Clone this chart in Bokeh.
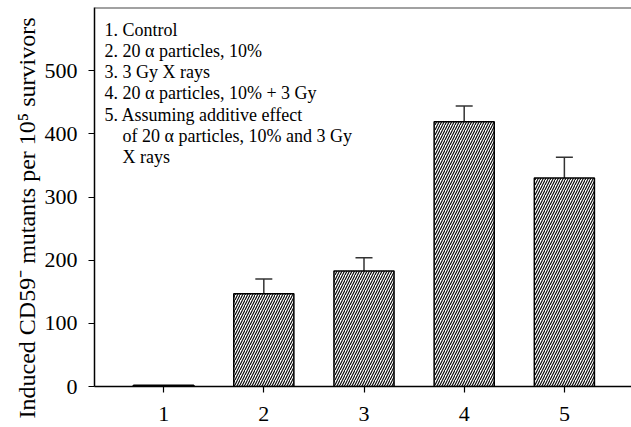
from bokeh.plotting import figure
from bokeh.models import ColumnDataSource, Whisker, TeeHead, FixedTicker, Span, Label, Range1d, Title
from bokeh.embed import file_html
from bokeh.resources import INLINE

# data
groups = [1, 2, 3, 4, 5]
tick_labels = ["1", "2", "3", "4", "5"]
means = [2, 147, 183, 419, 330]
errors = [0, 23, 21, 25, 33]
legend_lines = [
    "1. Control",
    "2. 20 \u03b1 particles, 10%",
    "3. 3 Gy X rays",
    "4. 20 \u03b1 particles, 10% + 3 Gy",
    "5. Assuming additive effect",
    "of 20 \u03b1 particles, 10% and 3 Gy",
    "X rays",
]
legend_indent = [0, 0, 0, 0, 0, 1, 1]
y_ticks = [0, 100, 200, 300, 400, 500]
y_label = "Induced CD59\u207b mutants per 10\u2075 survivors"

FONT = "Liberation Serif"
W, H = 631, 427

p = figure(width=W, height=H, output_backend="svg", toolbar_location=None,
           x_range=Range1d(0.31, 5.67), y_range=Range1d(0, 600),
           min_border_left=94, min_border_right=0, min_border_top=7, min_border_bottom=41)
p.background_fill_color = "white"
p.border_fill_color = "white"
p.outline_line_color = None
p.xgrid.grid_line_color = None
p.ygrid.grid_line_color = None

src = ColumnDataSource(dict(x=groups, top=means))
p.vbar(x="x", top="top", bottom=0, width=0.6, source=src,
       fill_color="white", line_color="black", line_width=1.5,
       hatch_pattern="/", hatch_color="black", hatch_scale=5, hatch_weight=1.1)

ex = [g for g, e in zip(groups, errors) if e > 0]
elo = [m for m, e in zip(means, errors) if e > 0]
ehi = [m + e for m, e in zip(means, errors) if e > 0]
esrc = ColumnDataSource(dict(base=ex, lower=elo, upper=ehi))
w = Whisker(base="base", lower="lower", upper="upper", source=esrc,
            line_color="#333333", line_width=1.5,
            upper_head=TeeHead(size=17, line_color="#333333", line_width=1.5),
            lower_head=None)
p.add_layout(w)

p.add_layout(Span(location=600, dimension="width", line_color="#444444", line_width=2))

p.xaxis.ticker = FixedTicker(ticks=groups)
p.xaxis.major_label_overrides = {g: t for g, t in zip(groups, tick_labels)}
p.yaxis.ticker = FixedTicker(ticks=y_ticks)
for ax in (p.xaxis[0], p.yaxis[0]):
    ax.axis_line_color = "black"
    ax.axis_line_width = 1.5
    ax.major_tick_line_color = "black"
    ax.major_tick_line_width = 1.2
    ax.major_tick_in = 0
    ax.major_tick_out = 6
    ax.minor_tick_line_color = None
    ax.major_label_text_font = FONT
    ax.major_label_text_font_size = "22px"
    ax.major_label_text_color = "black"
p.xaxis.major_label_standoff = 14
p.yaxis.major_label_standoff = 11

# legend text lines (baseline positions in data units, spacing in pixels)
px_per_unit_y = (H - 7 - 41) / 600.0
line_step = 21.3 / px_per_unit_y
first_base = 600 - (29 - 7) / px_per_unit_y
for i, (txt, ind) in enumerate(zip(legend_lines, legend_indent)):
    p.add_layout(Label(x=0.41 + 0.18 * ind, y=first_base - i * line_step, text=txt,
                       text_font=FONT, text_font_size="18px", text_color="black",
                       text_baseline="alphabetic", text_align="left"))

ttl = Title(text=y_label, align="left", text_font=FONT, text_font_size="24px",
            text_font_style="normal", text_color="black", offset=-32, standoff=4)
p.add_layout(ttl, "left")

open("out.html", "w").write(file_html(p, INLINE))
